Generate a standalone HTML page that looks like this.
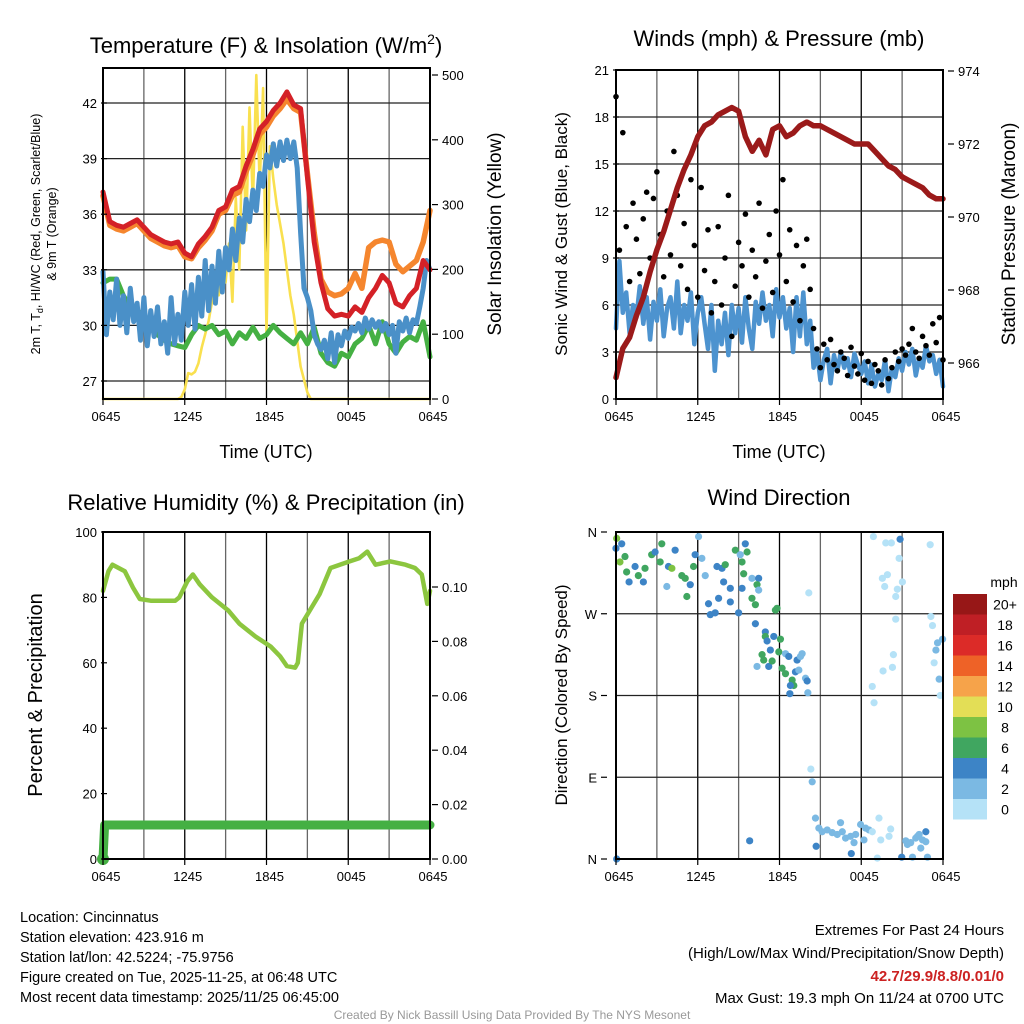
<!DOCTYPE html>
<html><head><meta charset="utf-8"><style>
body{margin:0;background:#fff;}
svg{display:block;font-family:"Liberation Sans",sans-serif;}
</style></head><body>
<svg id="c" width="1024" height="1024" viewBox="0 0 1024 1024" xmlns="http://www.w3.org/2000/svg">
<rect width="1024" height="1024" fill="#fff"/>
<g id="gTL"></g>
<g id="gTR"></g>
<g id="gBL"></g>
<g id="gBR"></g>
<text x="266" y="53" font-size="22" text-anchor="middle">Temperature (F) &amp; Insolation (W/m<tspan font-size="14" dy="-9">2</tspan><tspan dy="9">)</tspan></text>
<text x="779" y="46" font-size="22" text-anchor="middle">Winds (mph) &amp; Pressure (mb)</text>
<text x="266" y="510" font-size="22" text-anchor="middle">Relative Humidity (%) &amp; Precipitation (in)</text>
<text x="779" y="505" font-size="22" text-anchor="middle">Wind Direction</text>
<text x="266" y="458" font-size="18" text-anchor="middle">Time (UTC)</text>
<text x="779" y="458" font-size="18" text-anchor="middle">Time (UTC)</text>
<text transform="translate(40,234) rotate(-90)" font-size="12.5" text-anchor="middle">2m T, T<tspan font-size="9" dy="3">d</tspan><tspan dy="-3">, HI/WC (Red, Green, Scarlet/Blue)</tspan></text>
<text transform="translate(56,234) rotate(-90)" font-size="12.5" text-anchor="middle">&amp; 9m T (Orange)</text>
<text transform="translate(501,234) rotate(-90)" font-size="19" text-anchor="middle">Solar Insolation (Yellow)</text>
<text transform="translate(567,234) rotate(-90)" font-size="17" text-anchor="middle">Sonic Wind &amp; Gust (Blue, Black)</text>
<text transform="translate(1015,234) rotate(-90)" font-size="19" text-anchor="middle">Station Pressure (Maroon)</text>
<text transform="translate(42,695) rotate(-90)" font-size="20" text-anchor="middle">Percent &amp; Precipitation</text>
<text transform="translate(567,695) rotate(-90)" font-size="17" text-anchor="middle">Direction (Colored By Speed)</text>
<g font-size="14.5">
<text x="20" y="922">Location: Cincinnatus</text>
<text x="20" y="942">Station elevation: 423.916 m</text>
<text x="20" y="962">Station lat/lon: 42.5224; -75.9756</text>
<text x="20" y="982">Figure created on Tue, 2025-11-25, at 06:48 UTC</text>
<text x="20" y="1002">Most recent data timestamp: 2025/11/25 06:45:00</text>
</g>
<g font-size="15" text-anchor="end">
<text x="1004" y="935">Extremes For Past 24 Hours</text>
<text x="1004" y="958">(High/Low/Max Wind/Precipitation/Snow Depth)</text>
<text x="1004" y="981" fill="#cc2222" font-weight="bold">42.7/29.9/8.8/0.01/0</text>
<text x="1004" y="1003">Max Gust: 19.3 mph On 11/24 at 0700 UTC</text>
</g>
<text x="512" y="1019" font-size="12" fill="#999" text-anchor="middle">Created By Nick Bassill Using Data Provided By The NYS Mesonet</text>
</svg>
<script>
// ---------- data ----------
const xTickLabels = ["0645","1245","1845","0045","0645"];
const tempTicks = [27,30,33,36,39,42];
const solarTicks = [0,100,200,300,400,500];
const windTicks = [0,3,6,9,12,15,18,21];
const pressTicks = [966,968,970,972,974];
const rhTicks = [0,20,40,60,80,100];
const precipTicks = ["0.00","0.02","0.04","0.06","0.08","0.10"];
const dirLabels = ["N","E","S","W","N"];
const speedBins = ["0","2","4","6","8","10","12","14","16","18","20+"];
const speedColors = ["#b5e2f7","#7bb9e3","#3d84c6","#40a660","#7dc243","#e3de56","#f6a34a","#ee6227","#dc2b28","#bf1f25","#971717"];

// 30-min temperature series (t = 0..24 h)
const tempRed = [37.2,35.6,35.4,35.3,35.5,35.7,35.3,34.9,34.7,34.5,34.4,34.5,33.9,33.7,34.4,34.8,35.3,36.2,36.4,37.3,37.5,38.6,39.5,40.6,41.0,41.6,42.0,42.6,41.9,41.7,38.0,34.5,32.3,30.9,30.5,30.6,30.5,31.0,30.7,31.5,32.0,32.7,32.3,31.2,31.0,31.6,32.0,33.5,33.0];
const tempOrange = [37.0,35.4,35.2,35.1,35.3,35.5,35.1,34.7,34.5,34.3,34.2,34.3,33.7,33.6,34.2,34.6,35.1,36.0,36.2,37.0,37.2,38.3,39.2,40.3,40.7,41.3,41.7,42.2,41.7,41.5,38.2,35.0,32.5,31.8,31.6,31.7,32.0,32.8,32.0,34.2,34.5,34.6,34.5,33.3,32.9,33.2,33.5,34.5,36.2];
const tempDew = [32.3,32.5,32.5,31.6,31.0,30.8,30.5,30.0,29.5,29.2,29.0,28.9,28.8,29.5,30.0,29.8,30.0,29.5,29.7,29.0,29.6,29.3,29.9,29.3,29.5,30.0,29.6,29.3,29.0,29.6,29.0,29.9,28.5,28.0,27.8,28.5,28.3,29.0,29.3,30.0,29.0,30.2,29.0,28.5,29.1,29.4,29.2,30.2,28.3];
// 15-min series
const tempWindChill = [32.9,29.5,31.8,30.3,32.5,30.0,31.6,29.6,32.0,30.2,31.2,29.2,31.5,28.9,30.8,29.4,31.0,29.0,30.2,28.5,31.5,29.0,30.6,29.2,31.8,
30.0,32.2,29.8,32.6,30.5,33.5,30.8,33.2,31.2,34.0,31.8,34.2,33.0,35.2,33.5,35.8,34.5,36.8,35.6,37.3,36.2,38.2,37.5,39.2,
38.5,39.8,38.6,39.9,38.9,40.0,39.0,39.9,38.5,35.0,32.0,31.5,30.8,29.5,29.0,28.7,29.2,28.2,29.6,28.0,29.5,28.9,29.7,29.3,
29.9,29.7,30.1,29.6,30.4,29.8,30.3,29.9,30.2,29.7,30.1,29.5,30.0,28.5,30.2,29.7,30.4,29.6,30.3,30.1,31.0,32.0,33.5,33.0];
const solar = [0,0,0,0,0,0,0,0,0,0,0,0,0,0,0,0,0,0,0,0,0,0,0,
3,15,40,38,42,55,80,100,120,150,175,160,200,180,240,150,310,200,420,260,450,300,500,330,480,100,390,340,300,270,240,200,160,130,90,50,30,10,
0,0,0,0,0,0,0,0,0,0,0,0,0,0,0,0,0,0,0,0,0,0,0,0,0,0,0,0,0,0,0,0,0,0,0,0];
const windSpeed = [4.5,8.8,5.5,6.8,4.2,6.0,5.2,7.2,4.8,6.5,3.8,6.2,5.0,7.0,4.0,5.8,6.5,4.5,7.5,4.2,6.0,5.0,6.8,3.5,5.5,
6.5,4.8,3.2,6.0,1.8,5.0,3.5,5.5,2.8,6.0,4.2,5.8,3.6,6.5,4.5,3.2,6.2,4.8,6.8,5.0,6.0,4.0,7.0,5.2,
6.5,4.5,5.8,3.0,6.5,4.0,6.8,3.5,5.0,2.0,3.0,1.2,2.5,3.2,1.0,2.8,1.8,3.0,2.0,2.6,1.4,2.9,2.2,1.6,
2.4,1.0,2.2,0.8,1.6,1.2,2.5,0.5,2.0,1.4,2.6,1.8,3.0,2.2,3.2,1.5,2.6,2.0,3.4,2.4,2.8,1.6,2.5,0.8];
const windGust = [19.3,9.5,17.0,11.0,7.5,12.5,10.2,8.0,11.5,13.2,9.0,12.8,14.5,10.5,7.8,12.0,9.2,15.8,13.0,8.5,11.2,7.0,14.0,9.8,6.5,
13.5,8.2,10.8,5.5,7.5,11.0,6.0,9.0,13.0,4.0,7.2,10.0,8.5,11.8,6.5,9.5,7.8,12.5,5.8,8.8,10.5,6.8,12.0,9.2,
14.0,7.5,10.8,6.2,9.8,5.0,8.5,10.2,7.0,4.5,3.2,2.0,3.5,2.5,3.8,2.2,1.8,3.0,2.6,1.5,3.3,2.1,1.6,2.9,
1.2,2.4,1.0,2.2,1.8,0.9,2.5,1.3,2.0,3.0,2.4,3.2,2.8,3.5,4.5,3.0,2.6,4.0,3.4,2.8,4.8,3.6,5.2,2.5];
const pressure = [965.6,966.4,966.7,967.3,967.8,968.5,969.1,969.6,970.2,970.8,971.3,971.7,972.2,972.5,972.6,972.8,972.9,973.0,972.9,972.2,971.8,972.1,971.7,972.4,972.5,972.2,972.3,972.5,972.6,972.5,972.5,972.4,972.3,972.2,972.1,972.0,972.0,972.0,971.8,971.6,971.4,971.3,971.1,971.0,970.9,970.8,970.6,970.5,970.5];
const rhTimes = [0,0.4,0.7,1.6,2.2,2.7,3.5,4.5,5.3,5.6,6.2,6.6,7.1,8.0,9.2,10.0,11.2,12.3,13.0,13.5,14.1,14.3,14.6,15.9,16.7,18.1,18.8,19.4,20.0,21.1,22.2,22.9,23.4,23.8,24];
const rhValues = [82,88,90,88,83,79.5,79,79,79,80,85,87,84,80,76,72,68,65,62,59,58.5,60,72,81,89,91,92,94,90,91,90,89,87,78,82];
const precipTimes = [0,0.12,24];
const precipValues = [0,0.0125,0.0125];
const dirTimes = [0.05,0,0.42,0.29,0.66,0.78,1.4,1.64,2.13,2.01,0.96,2.62,2.87,3.36,3.24,3.85,4.1,3.73,4.34,4.83,5.08,5.45,5.2,5.81,6.3,6.06,5.69,6.55,6.79,6.92,7.28,7.53,7.41,7.78,8.02,7.9,8.39,8.39,8.76,9.0,9.12,9.49,9.62,9.25,9.37,9.25,9.98,10.47,10.35,10.47,9.98,10.23,11.7,11.82,10.23,10.96,10.96,11.09,11.58,12.07,11.33,10.72,10.84,11.95,12.44,12.68,13.29,13.66,13.54,10.35,11.21,11.46,12.19,12.44,13.17,13.42,12.93,13.05,12.8,13.91,14.03,12.76,14.08,14.15,18.89,19.8,20.21,20.85,20.78,23.06,19.55,19.92,19.72,20.65,20.53,21.02,20.53,23.11,23.23,23.6,23.48,23.35,23.97,23.72,23.8,20.36,20.29,19.6,18.81,18.94,14.3,14.4,14.64,14.89,15.13,15.5,15.87,16.24,16.61,16.48,16.85,17.22,17.59,17.95,18.32,18.57,18.2,17.47,14.69,17.27,18.81,19.3,19.43,20.04,20.16,19.18,20.97,21.27,21.39,21.63,22.0,22.13,22.25,22.5,22.74,22.86,22.37,22.74,21.76,0.05,9.81,21.39];
const dirValues = [353,342,347,327,333,316,322,312,320,305,305,335,338,347,327,322,320,300,340,312,309,302,289,335,331,355,322,312,281,269,271,287,322,320,324,305,298,283,340,271,335,347,338,327,314,298,309,309,302,296,287,280,274,276,259,250,245,240,245,242,230,225,219,228,226,223,219,226,223,212,212,218,210,204,206,208,197,191,191,199,196,182,183,293,355,348,348,352,331,346,309,313,300,297,289,305,264,267,257,238,230,216,242,198,180,225,211,207,190,172,99,85,45,34,30,32,29,27,30,40,23,25,27,38,34,32,21,18,14,6,30,45,21,25,33,1,2,20,16,18,23,25,27,21,19,2,12,30,2,0,20];
const dirSpeeds = [8,4,4,8,6,6,4,6,6,4,4,6,4,6,6,4,8,2,4,6,6,4,6,4,2,2,6,2,4,4,4,4,4,4,6,4,4,4,6,4,2,4,6,6,6,4,2,4,6,2,6,6,6,6,4,4,6,4,4,6,4,6,6,6,2,4,4,2,2,2,4,6,6,6,4,2,6,6,4,2,4,4,2,0,0,0,0,4,0,0,0,0,0,0,0,0,0,0,0,2,2,0,2,2,0,0,0,0,0,0,0,2,2,2,2,2,2,2,2,2,2,2,2,2,2,2,2,2,4,4,0,0,0,0,0,0,4,2,2,2,2,2,2,2,2,2,2,4,2,4,4,0];

// ---------- helpers ----------
const NS="http://www.w3.org/2000/svg";
function mk(parent,tag,attrs){const e=document.createElementNS(NS,tag);for(const k in attrs)e.setAttribute(k,attrs[k]);parent.appendChild(e);return e;}
function panel(x0,x1,y0,y1){return{x0,x1,y0,y1,X:t=>x0+t/24*(x1-x0)};}
function lin(d0,d1,p0,p1){return v=>p0+(v-d0)/(d1-d0)*(p1-p0);}

function frame(g,P,hGrid,vGrid){
  if(vGrid){for(let h=3;h<24;h+=3){const l=mk(g,'line',{x1:P.X(h),x2:P.X(h),y1:P.y0,y2:P.y1,stroke:(h%6==0)?'#000':'#666','stroke-width':1.3});
    
    }}
  hGrid.forEach(y=>{const l=mk(g,'line',{x1:P.x0,x2:P.x1,y1:y,y2:y,stroke:'#222','stroke-width':1.3});
    
    });
}
function border(g,P){const r=mk(g,'rect',{x:P.x0,y:P.y0,width:P.x1-P.x0,height:P.y1-P.y0,fill:'none',stroke:'#000','stroke-width':2});
  
  }
function xLabels(g,P){xTickLabels.forEach((s,i)=>{const t=mk(g,'text',{x:P.X(i*6)+3,y:P.y1+22,'font-size':13,'text-anchor':'middle'});t.textContent=s;
  
  
  const tk=mk(g,'line',{x1:P.X(i*6),x2:P.X(i*6),y1:P.y1,y2:P.y1+6,stroke:'#000','stroke-width':1.2});
  
  });}
function yLabels(g,vals,labels,yf,x,anchor,tickDir){vals.forEach((v,i)=>{const y=yf(v);const t=mk(g,'text',{x:x,y:y+5,'font-size':13,'text-anchor':anchor});t.textContent=labels[i];
  
  
  const bx=anchor==='end'?x+4:x-4;
  const tk=mk(g,'line',{x1:bx,x2:bx+tickDir*6,y1:y,y2:y,stroke:'#000','stroke-width':1.2});
  
  });}
function path(g,pts,color,w,name){const p=mk(g,'path',{d:'M'+pts.map(p=>p[0].toFixed(1)+','+p[1].toFixed(1)).join('L'),fill:'none',stroke:color,'stroke-width':w,'stroke-linejoin':'round','stroke-linecap':'round'});
  
  return p;}
function series(arr,P,yf,step){return arr.map((v,i)=>[P.X(i*step),yf(v)]);}

// ---------- Temperature panel ----------
(function(){
  const g=document.getElementById('gTL');
  const P=panel(103,430,68,399);
  const yT=lin(27,42,381,103), yS=lin(0,500,399,75);
  frame(g,P,tempTicks.map(yT),true);
  path(g,series(solar,P,yS,0.25),'#f9e04f',2.6,'solar-line');
  path(g,series(tempDew,P,yT,0.5),'#45b043',5,'dewpoint-line');
  path(g,series(tempWindChill,P,yT,0.25),'#4a90c8',5,'windchill-line');
  path(g,series(tempOrange,P,yT,0.5),'#f5862e',5.5,'9m-temperature-line');
  path(g,series(tempRed,P,yT,0.5),'#d42127',5,'2m-temperature-line');
  border(g,P);
  xLabels(g,P);
  yLabels(g,tempTicks,tempTicks.map(String),yT,97,'end',1);
  yLabels(g,solarTicks,solarTicks.map(String),yS,442,'start',-1);
})();

// ---------- Winds panel ----------
(function(){
  const g=document.getElementById('gTR');
  const P=panel(616,943,70,399);
  const yW=lin(0,21,399,70), yP=lin(966,974,363,71);
  frame(g,P,windTicks.filter(v=>v>0&&v<21).map(yW),true);
  path(g,series(windSpeed,P,yW,0.25),'#4d93cf',4.5,'sustained-wind-line');
  windGust.forEach((v,i)=>{const c=mk(g,'circle',{cx:P.X(i*0.25),cy:yW(v),r:2.8,fill:'#000'});
    
    });
  path(g,series(pressure,P,yP,0.5),'#9b1a1a',5.5,'pressure-line');
  border(g,P);
  xLabels(g,P);
  yLabels(g,windTicks,windTicks.map(String),yW,609,'end',1);
  yLabels(g,pressTicks,pressTicks.map(String),yP,958,'start',-1);
})();

// ---------- Humidity panel ----------
(function(){
  const g=document.getElementById('gBL');
  const P=panel(103,430,532,859);
  const yR=lin(0,100,859,532), yPr=lin(0,0.1,859,587);
  frame(g,P,[],true);
  path(g,rhTimes.map((t,i)=>[P.X(t),yR(rhValues[i])]),'#8cc63f',4.5,'humidity-line');
  path(g,precipTimes.map((t,i)=>[P.X(t),yPr(precipValues[i])]),'#45b043',9,'precipitation-line');
  const d=mk(g,'circle',{cx:P.X(precipTimes[0]),cy:yPr(precipValues[0]),r:6,fill:'#45b043'});
  
  
  border(g,P);
  xLabels(g,P);
  yLabels(g,rhTicks,rhTicks.map(String),yR,97,'end',1);
  yLabels(g,precipTicks.map(Number),precipTicks,yPr,442,'start',-1);
})();

// ---------- Wind direction panel ----------
(function(){
  const g=document.getElementById('gBR');
  const P=panel(616,943,532,859);
  const yD=lin(0,360,859,532);
  frame(g,P,[90,180,270].map(yD),true);
  dirTimes.forEach((t,i)=>{
    const dv=dirValues[i], sv=dirSpeeds[i];
    if(dv===undefined||sv===undefined) return;
    const c=mk(g,'circle',{cx:P.X(t),cy:yD(dv),r:3.6,fill:speedColors[Math.min(10,Math.floor(sv/2))]});
    
    });
  border(g,P);
  xLabels(g,P);
  yLabels(g,[0,90,180,270,360],dirLabels,yD,597,'end',1);
  // colorbar
  const top=594,h=20.5;
  const cap=mk(g,'text',{x:1004,y:587,'font-size':14,'text-anchor':'middle'});cap.textContent='mph';
  
  
  for(let k=0;k<speedBins.length;k++){const idx=speedBins.length-1-k;
    const r=mk(g,'rect',{x:953,y:top+k*h,width:34,height:h,fill:speedColors[idx]});
    
    
    const t=mk(g,'text',{x:1005,y:top+k*h+h/2+5,'font-size':14,'text-anchor':'middle'});t.textContent=speedBins[idx];
    
    }
})();
</script>
</body></html>
